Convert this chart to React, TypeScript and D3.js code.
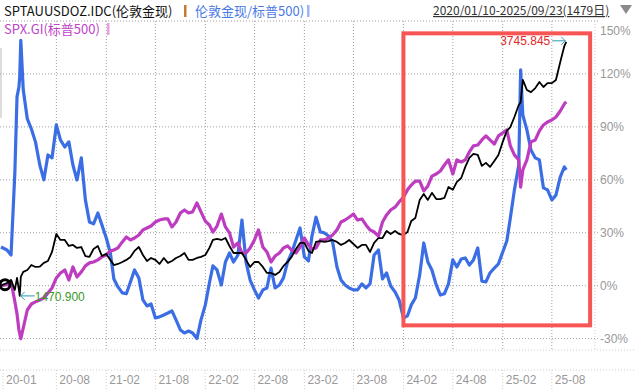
import React from "react";
import * as d3 from "d3";

const W = 636;
const H = 390;

// sample dates (yy-mm-dd), one value per date in each series below
const sampleDates = [
  "20-01-10", "20-02-01", "20-02-16", "20-03-01", "20-03-09", "20-03-16", "20-03-19", "20-03-23", "20-04-01", "20-04-16",
  "20-05-01", "20-05-16", "20-06-01", "20-06-16", "20-07-01", "20-07-16", "20-08-01", "20-08-16",
  "20-09-01", "20-09-16", "20-10-01", "20-10-16", "20-11-01", "20-11-16", "20-12-01", "20-12-16",
  "21-01-01", "21-01-16", "21-02-01", "21-02-16", "21-03-01", "21-03-16", "21-04-01", "21-04-16",
  "21-05-01", "21-05-16", "21-06-01", "21-06-16", "21-07-01", "21-07-16", "21-08-01", "21-08-16",
  "21-09-01", "21-09-16", "21-10-01", "21-10-16", "21-11-01", "21-11-16", "21-12-01", "21-12-16",
  "22-01-01", "22-01-16", "22-02-01", "22-02-16", "22-03-01", "22-03-16", "22-04-01", "22-04-16",
  "22-05-01", "22-05-16", "22-06-01", "22-06-16", "22-07-01", "22-07-16", "22-08-01", "22-08-16",
  "22-09-01", "22-09-16", "22-10-01", "22-10-16", "22-11-01", "22-11-16", "22-12-01", "22-12-16",
  "23-01-01", "23-01-16", "23-02-01", "23-02-16", "23-03-01", "23-03-16", "23-04-01", "23-04-16",
  "23-05-01", "23-05-16", "23-06-01", "23-06-16", "23-07-01", "23-07-16", "23-08-01", "23-08-16",
  "23-09-01", "23-09-16", "23-10-01", "23-10-16", "23-11-01", "23-11-16", "23-12-01", "23-12-16",
  "24-01-01", "24-01-16", "24-02-01", "24-02-16", "24-03-01", "24-03-16", "24-04-01", "24-04-16",
  "24-05-01", "24-05-16", "24-06-01", "24-06-16", "24-07-01", "24-07-16", "24-08-01", "24-08-16",
  "24-09-01", "24-09-16", "24-10-01", "24-10-16", "24-11-01", "24-11-16", "24-12-01", "24-12-16",
  "25-01-01", "25-01-16", "25-02-01", "25-02-16", "25-03-01", "25-03-16", "25-04-01", "25-04-08", "25-04-16",
  "25-05-01", "25-05-16", "25-06-01", "25-06-16", "25-07-01", "25-07-16", "25-08-01", "25-08-16",
  "25-09-01", "25-09-16", "25-09-23",
];

// SPTAUUSDOZ.IDC, % change since start
const goldPct = [
  0, 1.5, 3.2, -2.4, 4.4, -2.4, -5.8, 5, 7.8, 8.9,
  11.7, 10.6, 10.8, 12.9, 14, 19.1, 29.3, 25.9, 25.9, 22.5, 23.1, 21.4, 21.9, 16.8, 16.3, 20.8,
  22.5, 16.8, 18, 14.6, 11.7, 12.3, 13.4, 14.6, 16.3, 19.7, 21.9, 17.4, 14, 15.7, 14.6, 12.3, 15.7, 12.9, 14, 15.7, 16.8, 18.5, 14.6, 14.6,
  15.7, 16.3, 17.4, 21.4, 25.9, 26.5, 25.9, 27, 22.5, 18.5, 18.5, 18.5, 14.6, 10.6, 13.4, 13.4, 10.6, 7.2, 7.2, 6.1, 7.8, 11.2, 13.4, 16.3,
  20.8, 24.2, 24.2, 19.7, 18.5, 24.8, 25.3, 24.8, 25.3, 25.9, 24.8, 23.1, 24.2, 25.9, 23.6, 21.4, 23.1, 23.1, 19.1, 24.2, 27, 27, 31, 29.3,
  31, 29.3, 28.7, 30.4, 36.7, 38.4, 48.6, 52, 48.6, 52.6, 49.1, 49.1, 49.7, 55.9, 54.3, 58.8, 61, 67.3, 72.4, 74.7, 74.1, 67.9, 69.6, 67.3,
  70.7, 74.1, 81.5, 87.7, 89.9, 95.6, 102.4, 104, 116.6, 110.9, 109.7, 112, 115.4, 112.6, 114.8, 114.8, 116.6, 126.8, 135.8, 138.2,
];

// 伦敦金现/标普500
const ratioPct = [
  21.9, 20.2, 17.4, 63.9, 107, 112.6, 118, 139, 111, 94.5,
  88.8, 81.5, 68.4, 60, 74.1, 72.4, 91.1, 82.6, 78.6, 81.5, 68.4, 59.9, 72.4, 48.6, 36.1, 35,
  41.2, 34.4, 27, 18.5, 3.8, -0.7, -4.1, -4.6, 2.1, 8.9, 4.4, -8.1, -11.5, -10.4, -18.3, -17.7, -16.6, -15.5, -14.3, -19.4, -25.1, -26.8, -25.7, -26.8,
  -30, -19.4, -10.9, 1.5, 11.2, 8.9, 0.4, 13.4, 18.5, 13.4, 17.4, 37.2, 13.4, 3.2, -2.4, -7, -2.4, -1.3, 10, -1.3, 0.4, 4.4, 13.4, 18.5,
  25.9, 32.7, 16.3, 14, 28.1, 38.8, 30.4, 29.9, 28.1, 24.8, 10.6, 3.2, 0.4, -1.3, -2.4, -2.4, 1, -1.3, 1, 17.4, 20.2, 3.8, 7.2, -0.2,
  -3.5, -8.1, -18.3, -17.1, -10.9, -7, 6.1, 24.2, 13.4, 8.9, 0.4, -5.3, -4.6, 1, 14.6, 10.6, 15.1, 15.7, 11.7, 14.6, 21.4, 2.6, 2.1, 7.2,
  10, 12.3, 19.1, 25.3, 38.4, 54.3, 68.4, 122.3, 96.7, 88.3, 76.9, 72.4, 71.3, 55.4, 54.3, 48.6, 51.3, 61.6, 67.3, 65.6,
];

// SPX.GI
const spxPct = [
  0, 0.5, 2.5, -9, -16, -25, -27, -30, -24, -13.8,
  -10.4, -9.2, -8.1, -7, -4.1, -1.3, 4.4, 7.2, 8.9, 3.2, 10.6, 4.9, 7.8, 11.2, 12.9, 13.4,
  14.6, 16.3, 17.4, 19.7, 20.2, 21.4, 24.8, 27.6, 25.9, 27, 28.7, 31.6, 32.7, 33.8, 36.1, 37.2, 37.8, 37.8, 33.3, 36.1, 41.2, 42.9, 41.2, 41.8,
  46.9, 41.8, 36.6, 34.4, 30.4, 33.8, 40.6, 33.3, 29.9, 21.9, 24.2, 18.5, 18.5, 21.4, 25.9, 31.6, 21.9, 19.1, 13.4, 16.8, 18.5, 21.4, 22.5, 20.2,
  18.5, 21.9, 27, 23.1, 20.8, 21.4, 25.9, 25.9, 27, 28.7, 31.6, 36.1, 37.2, 38.8, 40.6, 37.2, 37.8, 34.4, 31.6, 30.4, 28.1, 36.1, 40.1, 42.9,
  44.5, 47.4, 50.2, 54.3, 57, 59.3, 59.3, 53.7, 56.5, 62.1, 63.3, 65, 68.4, 71.3, 63.3, 71.3, 70.1, 71.3, 75.8, 79.2, 79.7, 82.6, 84.9, 82.6,
  80.3, 84.9, 86.6, 88.3, 79.2, 74.1, 71.3, 55.9, 65.6, 71.3, 81.5, 82.6, 87.7, 91.1, 92.8, 93.9, 95.6, 99, 103, 104.1,
];

const monthTicks = ["20-01", "20-08", "21-02", "21-08", "22-02", "22-08", "23-02", "23-08", "24-02", "24-08", "25-02", "25-08"];
const pctTicks = [-30, 0, 30, 60, 90, 120, 150];
const goldLabels = ["1470.900", "3745.845"];
const rangeLabel = "2020/01/10-2025/09/23(1479日)";
// red highlight box: [from, to, top%, bottom%]
const highlight = ["24-02-01", "25-12-20", 143, -22.5] as const;

const parse = d3.utcParse("%y-%m-%d");
const font = "'Liberation Sans', Arial, sans-serif";
const cjk = "'Noto Sans CJK SC', 'Liberation Sans', sans-serif";

export default function App() {
  const dates = sampleDates.map((s) => parse(s) as Date);
  const x = d3.scaleUtc().domain([parse("20-01-10") as Date, parse("26-01-07") as Date]).range([1, 595]);
  const y = d3.scaleLinear().domain([-30, 150]).range([338.6, 21]);

  const line = d3
    .line<number>()
    .x((_, i) => x(dates[i]))
    .y((v) => y(v));

  const tickX = monthTicks.map((m) => Math.max(1, x(parse(m + "-01") as Date)));

  const lowIdx = d3.minIndex(goldPct);
  const highIdx = d3.maxIndex(goldPct);
  const lowPt = [x(dates[lowIdx]), y(goldPct[lowIdx])];
  const highPt = [x(dates[highIdx]), y(goldPct[highIdx])];
  const start = [x(dates[0]), y(goldPct[0])];

  const hx0 = x(parse(highlight[0]) as Date);
  const hx1 = x(parse(highlight[1]) as Date);
  const hy0 = y(highlight[2]);
  const hy1 = y(highlight[3]);

  return (
    <svg width={W} height={H} style={{ position: "absolute", left: 0, top: 0, background: "#fff" }}>
      {/* frame */}
      <line x1={595} x2={595} y1={21} y2={350} stroke="#ccc" strokeDasharray="1,2" />
      <line x1={0} x2={W} y1={350} y2={350} stroke="#ccc" strokeDasharray="1,2" />
      <line x1={0} x2={W} y1={370} y2={370} stroke="#ccc" strokeDasharray="1,2" />
      <rect x={0} y={48} width={2} height={70} fill="#ddd" />

      {/* grid */}
      {pctTicks.map((t) => (
        <line key={t} x1={0} x2={599} y1={y(t)} y2={y(t)} stroke="#a0a0a0" strokeDasharray="1,2" />
      ))}
      {tickX.map((tx, i) =>
        i === 0 ? null : <line key={i} x1={tx} x2={tx} y1={21} y2={350} stroke="#a0a0a0" strokeDasharray="1,2" />
      )}
      {tickX.map((tx, i) => (
        <line key={"s" + i} x1={i === 0 ? 3 : tx} x2={i === 0 ? 3 : tx} y1={370} y2={390} stroke="#ccc" strokeDasharray="1,2" />
      ))}

      {/* axis labels */}
      {monthTicks.map((m, i) => (
        <text key={m} x={(i === 0 ? 3 : tickX[i]) + 3} y={384} fontSize={12} fontFamily={font} fill="#999">
          {m}
        </text>
      ))}
      {pctTicks.map((t) => (
        <text key={t} x={600} y={t === 150 ? y(t) + 14 : y(t) + 4.5} fontSize={12} fontFamily={font} fill="#999">
          {t}%
        </text>
      ))}

      {/* series */}
      <path d={line(ratioPct) || ""} fill="none" stroke="#3b6ee4" strokeWidth={3.2} strokeLinejoin="round" />
      <path d={line(spxPct) || ""} fill="none" stroke="#bd3cc0" strokeWidth={3.2} strokeLinejoin="round" />
      <path d={line(goldPct) || ""} fill="none" stroke="#000" strokeWidth={1.8} strokeLinejoin="round" />
      <circle cx={start[0] + 4} cy={start[1] - 1} r={5} fill="none" stroke="#000" strokeWidth={3} />

      {/* highlight box */}
      <rect x={hx0} y={hy0} width={hx1 - hx0} height={hy1 - hy0} fill="none" stroke="#f85555" strokeWidth={4} />

      {/* min / max annotations */}
      <g stroke="#2a9db0" strokeWidth={1} fill="none">
        <line x1={lowPt[0] + 1} x2={lowPt[0] + 15} y1={lowPt[1]} y2={lowPt[1]} />
        <polyline points={`${lowPt[0] + 5},${lowPt[1] - 4} ${lowPt[0] + 1},${lowPt[1]} ${lowPt[0] + 5},${lowPt[1] + 4}`} />
        <line x1={highPt[0] - 14} x2={highPt[0] - 1} y1={highPt[1] - 1} y2={highPt[1] - 1} />
        <polyline points={`${highPt[0] - 5},${highPt[1] - 5} ${highPt[0] - 1},${highPt[1] - 1} ${highPt[0] - 5},${highPt[1] + 3}`} />
      </g>
      <text x={lowPt[0] + 15} y={lowPt[1] + 5} fontSize={12} fontFamily={font} fill="#3c9a28">
        {goldLabels[0]}
      </text>
      <text x={highPt[0] - 16} y={highPt[1] + 3} fontSize={12} fontFamily={font} fill="#e02828" textAnchor="end">
        {goldLabels[1]}
      </text>

      {/* header */}
      <text x={4} y={16} fontSize={13} fontFamily={cjk} fill="#111">
        SPTAUUSDOZ.IDC(伦敦金现)
      </text>
      <rect x={184} y={5} width={2.5} height={12} fill="#c87a35" />
      <text x={195} y={16} fontSize={13} fontFamily={cjk} fill="#4a7ae6">
        伦敦金现/标普500)
      </text>
      <rect x={307} y={5} width={2.5} height={12} fill="#9ab6f2" />
      <text x={4} y={34} fontSize={13} fontFamily={cjk} fill="#c043c8">
        SPX.GI(标普500)
      </text>
      <rect x={107} y={23} width={2.5} height={12} fill="#eaa0e4" />
      <text x={433} y={15} fontSize={12} fontFamily={cjk} fill="#333" style={{ textDecoration: "underline" }}>
        {rangeLabel}
      </text>
      <path d="M620,5 L632,5 L626,14 Z" fill="#8a8a8a" />
    </svg>
  );
}
